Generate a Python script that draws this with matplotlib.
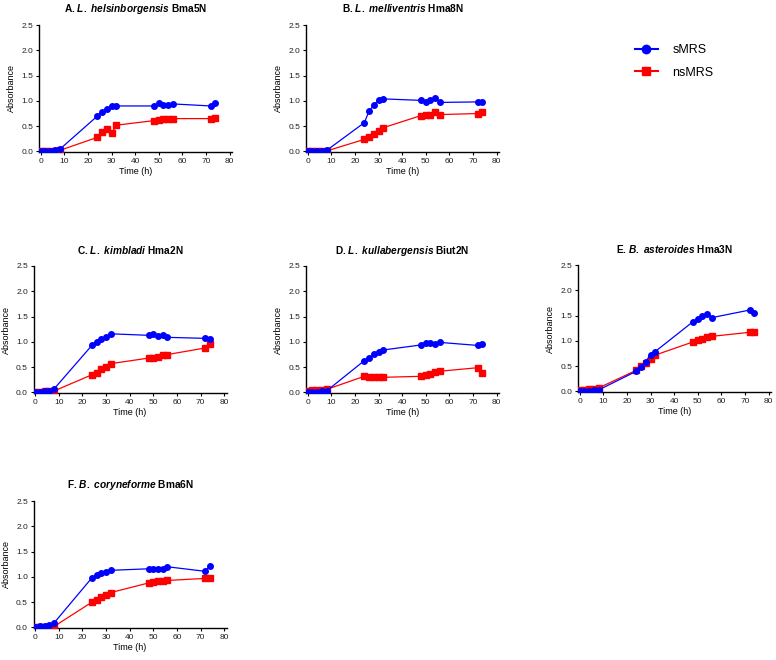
import numpy as np
import matplotlib
matplotlib.use('Agg')
import matplotlib.pyplot as plt
from matplotlib.lines import Line2D

plt.rcParams['font.family'] = ['Liberation Sans', 'DejaVu Sans']
plt.rcParams['mathtext.fontset'] = 'custom'
plt.rcParams['mathtext.it'] = 'Liberation Sans:italic:bold'
plt.rcParams['mathtext.rm'] = 'Liberation Sans:bold'

time = [0, 2, 4, 6, 8, 24, 26, 28, 30, 32, 48, 50, 52, 54, 56, 72, 74]

titles = ['A. $\\mathit{L.\\ helsinborgensis}$ Bma5N',
          'B. $\\mathit{L.\\ melliventris}$ Hma8N',
          'C. $\\mathit{L.\\ kimbladi}$ Hma2N',
          'D. $\\mathit{L.\\ kullabergensis}$ Biut2N',
          'E. $\\mathit{B.\\ asteroides}$ Hma3N',
          'F. $\\mathit{B.\\ coryneforme}$ Bma6N']

smrs_A  = [0.01, 0.01, 0.01, 0.02, 0.04, 0.70, 0.79, 0.84, 0.90, 0.90, 0.90, 0.96, 0.92, 0.92, 0.94, 0.90, 0.96]
nsmrs_A = [0.01, 0.01, 0.01, 0.01, 0.02, 0.28, 0.38, 0.44, 0.36, 0.52, 0.61, 0.62, 0.64, 0.65, 0.65, 0.65, 0.66]

smrs_B  = [0.01, 0.01, 0.01, 0.01, 0.02, 0.57, 0.80, 0.92, 1.02, 1.04, 1.01, 0.98, 1.01, 1.06, 0.97, 0.98, 0.98]
nsmrs_B = [0.01, 0.01, 0.01, 0.01, 0.01, 0.24, 0.28, 0.34, 0.40, 0.47, 0.71, 0.72, 0.73, 0.78, 0.73, 0.75, 0.79]

smrs_C  = [0.01, 0.01, 0.02, 0.03, 0.07, 0.93, 1.00, 1.05, 1.10, 1.16, 1.13, 1.16, 1.11, 1.13, 1.09, 1.07, 1.05]
nsmrs_C = [0.00, 0.01, 0.02, 0.02, 0.03, 0.35, 0.38, 0.47, 0.51, 0.57, 0.68, 0.69, 0.71, 0.74, 0.75, 0.88, 0.95]

smrs_D  = [0.01, 0.01, 0.01, 0.02, 0.03, 0.63, 0.68, 0.76, 0.80, 0.84, 0.94, 0.98, 0.97, 0.95, 0.99, 0.93, 0.95]
nsmrs_D = [0.03, 0.04, 0.05, 0.05, 0.06, 0.32, 0.31, 0.31, 0.31, 0.30, 0.32, 0.34, 0.36, 0.40, 0.42, 0.49, 0.39]

smrs_E  = [0.00, 0.01, 0.01, 0.02, 0.03, 0.40, 0.49, 0.59, 0.73, 0.79, 1.38, 1.44, 1.50, 1.54, 1.46, 1.61, 1.56]
nsmrs_E = [0.02, 0.03, 0.04, 0.05, 0.07, 0.42, 0.50, 0.56, 0.65, 0.72, 0.98, 1.02, 1.04, 1.08, 1.09, 1.17, 1.18]

smrs_F  = [0.01, 0.02, 0.03, 0.04, 0.09, 0.98, 1.04, 1.07, 1.10, 1.13, 1.16, 1.16, 1.16, 1.16, 1.20, 1.11, 1.22]
nsmrs_F = [0.00, 0.00, 0.01, 0.01, 0.02, 0.50, 0.55, 0.61, 0.65, 0.69, 0.88, 0.89, 0.91, 0.92, 0.93, 0.97, 0.97]

smrs  = [smrs_A, smrs_B, smrs_C, smrs_D, smrs_E, smrs_F]
nsmrs = [nsmrs_A, nsmrs_B, nsmrs_C, nsmrs_D, nsmrs_E, nsmrs_F]

W, H = 776, 660
# (left px, x-axis px) of each panel
corners = [(39, 152), (306, 152), (33.5, 393), (306, 393), (578, 392), (33.5, 628)]
aw, ah = 193, 127

blue = '#0000ff'
red  = '#ff0000'

fig = plt.figure(figsize=(W/100, H/100), dpi=100)

for i, (lx, by) in enumerate(corners):
    ax = fig.add_axes([lx/W, 1 - by/H, aw/W, ah/H])
    ax.plot(time, nsmrs[i], color=red, marker='s', markersize=4, linewidth=0.9, zorder=3)
    ax.plot(time, smrs[i], color=blue, marker='o', markersize=4, linewidth=0.9, zorder=4)
    ax.set_xlim(-0.7, 81)
    ax.set_ylim(-0.01, 2.5)
    ax.set_xticks(np.arange(0, 81, 10))
    ax.set_yticks(np.arange(0, 2.51, 0.5))
    ax.set_yticklabels(['%.1f' % v for v in np.arange(0, 2.51, 0.5)])
    for s in ['top', 'right']:
        ax.spines[s].set_visible(False)
    ax.spines['left'].set_linewidth(1.0)
    ax.spines['bottom'].set_linewidth(1.0)
    ax.tick_params(direction='out', length=2.5, width=0.8, labelsize=6, pad=1.5, labelcolor='#222222')
    ax.set_xlabel('Time (h)', fontsize=6.5, labelpad=2)
    ax.set_ylabel('Absorbance', fontsize=6.5, labelpad=4)
    ax.set_title(titles[i], fontsize=7.3, fontweight='bold', pad=9)

handles = [Line2D([], [], color=blue, marker='o', markersize=6, linewidth=1.5),
           Line2D([], [], color=red, marker='s', markersize=6, linewidth=1.5)]
fig.legend(handles, ['sMRS', 'nsMRS'], loc='upper left', bbox_to_anchor=(635/W, 1 - 44/H),
           frameon=False, fontsize=9, handlelength=1.8, handletextpad=1.2,
           labelspacing=0.85, borderpad=0, borderaxespad=0)

plt.savefig('out.png', dpi=100)
